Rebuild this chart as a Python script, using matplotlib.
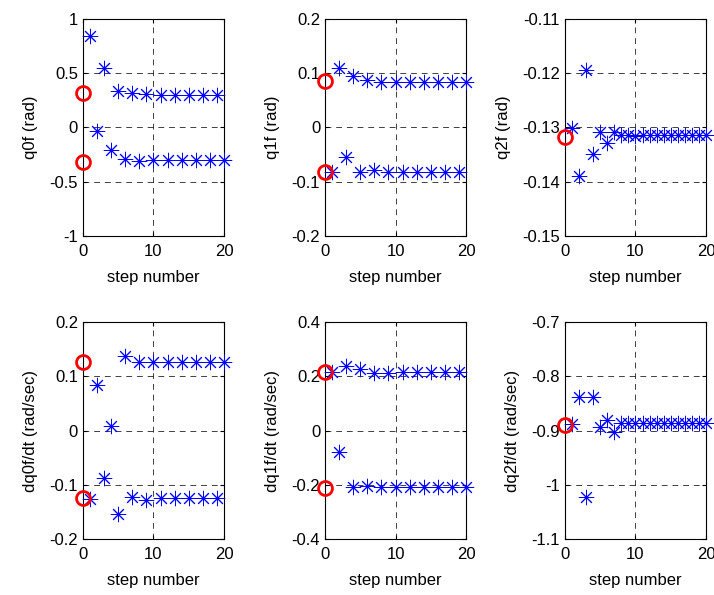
import numpy as np
import matplotlib
matplotlib.use('Agg')
import matplotlib.pyplot as plt

plt.rcParams['font.family'] = ['Liberation Sans', 'DejaVu Sans']
plt.rcParams['font.size'] = 12

# step numbers
steps_odd = [1, 3, 5, 7, 9, 11, 13, 15, 17, 19]
steps_even = [2, 4, 6, 8, 10, 12, 14, 16, 18, 20]
steps_all = list(range(1, 21))

# q0f (rad)
q0_odd = [0.84, 0.548, 0.34, 0.317, 0.305, 0.302, 0.302, 0.302, 0.302, 0.302]
q0_even = [-0.037, -0.21, -0.29, -0.305, -0.302, -0.302, -0.302, -0.302, -0.302, -0.302]
q0_init = [0.315, -0.314]

# q1f (rad)
q1_even = [0.1095, 0.095, 0.088, 0.0837, 0.0837, 0.0837, 0.0837, 0.0837, 0.0837, 0.0837]
q1_odd = [-0.0825, -0.0535, -0.0825, -0.079, -0.0825, -0.0825, -0.0825, -0.0825, -0.0825, -0.0825]
q1_init = [0.085, -0.0825]

# q2f (rad)
q2_all = [-0.1301, -0.1390, -0.1194, -0.1349, -0.1309, -0.1329, -0.1309, -0.1314, -0.1314, -0.1316,
          -0.1314, -0.1314, -0.1314, -0.1314, -0.1314, -0.1314, -0.1314, -0.1314, -0.1314, -0.1314]
q2_init = [-0.1317]

# dq0f/dt (rad/sec)
dq0_even = [0.084, 0.0086, 0.138, 0.126, 0.126, 0.126, 0.126, 0.126, 0.126, 0.126]
dq0_odd = [-0.126, -0.088, -0.153, -0.122, -0.128, -0.125, -0.125, -0.125, -0.125, -0.125]
dq0_init = [0.127, -0.125]

# dq1f/dt (rad/sec)
dq1_odd = [0.217, 0.237, 0.227, 0.211, 0.211, 0.215, 0.215, 0.215, 0.215, 0.215]
dq1_even = [-0.079, -0.21, -0.205, -0.21, -0.21, -0.21, -0.21, -0.21, -0.21, -0.21]
dq1_init = [0.215, -0.212]

# dq2f/dt (rad/sec)
dq2_all = [-0.8877, -0.8377, -1.0222, -0.8377, -0.8944, -0.880, -0.902, -0.887, -0.887, -0.887,
           -0.887, -0.887, -0.887, -0.887, -0.887, -0.887, -0.887, -0.887, -0.887, -0.887]
dq2_init = [-0.890]

panels = [
    ('q0f (rad)', [(steps_odd, q0_odd), (steps_even, q0_even)], q0_init, (-1, 1), [-1, -0.5, 0, 0.5, 1]),
    ('q1f (rad)', [(steps_even, q1_even), (steps_odd, q1_odd)], q1_init, (-0.2, 0.2), [-0.2, -0.1, 0, 0.1, 0.2]),
    ('q2f (rad)', [(steps_all, q2_all)], q2_init, (-0.15, -0.11), [-0.15, -0.14, -0.13, -0.12, -0.11]),
    ('dq0f/dt (rad/sec)', [(steps_even, dq0_even), (steps_odd, dq0_odd)], dq0_init, (-0.2, 0.2), [-0.2, -0.1, 0, 0.1, 0.2]),
    ('dq1f/dt (rad/sec)', [(steps_odd, dq1_odd), (steps_even, dq1_even)], dq1_init, (-0.4, 0.4), [-0.4, -0.2, 0, 0.2, 0.4]),
    ('dq2f/dt (rad/sec)', [(steps_all, dq2_all)], dq2_init, (-1.1, -0.7), [-1.1, -1, -0.9, -0.8, -0.7]),
]

fig = plt.figure(figsize=(7.14, 5.95), dpi=100)
lefts = [0.1162, 0.4552, 0.7913]
bottoms = [0.6034, 0.0941]
w, h = 0.1975, 0.3647

asterisk = (8, 2, 0)

for i, (ylab, series, init, ylim, yticks) in enumerate(panels):
    ax = fig.add_axes([lefts[i % 3], bottoms[i // 3], w, h])
    for xs, ys in series:
        ax.plot(xs, ys, linestyle='none', marker=asterisk, color='blue',
                markersize=11, markeredgewidth=0.7, clip_on=False, zorder=3)
    ax.plot([0] * len(init), init, linestyle='none', marker='o', markersize=10,
            markerfacecolor='none', markeredgecolor='red', markeredgewidth=2,
            clip_on=False, zorder=4)
    ax.set_xlim(0, 20)
    ax.set_ylim(*ylim)
    ax.set_xticks([0, 10, 20])
    ax.set_yticks(yticks)
    ax.set_yticklabels(['%g' % t for t in yticks])
    ax.grid(True, linestyle=(0, (6, 5)), color='black', linewidth=0.7, alpha=0.75)
    ax.tick_params(direction='in', length=3, top=True, right=True, labelsize=12)
    ax.tick_params(axis='x', pad=6)
    ax.set_xlabel('step number', fontsize=12, labelpad=8)
    ax.set_ylabel(ylab, fontsize=12, labelpad=8)
    for s in ax.spines.values():
        s.set_linewidth(0.8)

fig.savefig('out.png', dpi=100)
